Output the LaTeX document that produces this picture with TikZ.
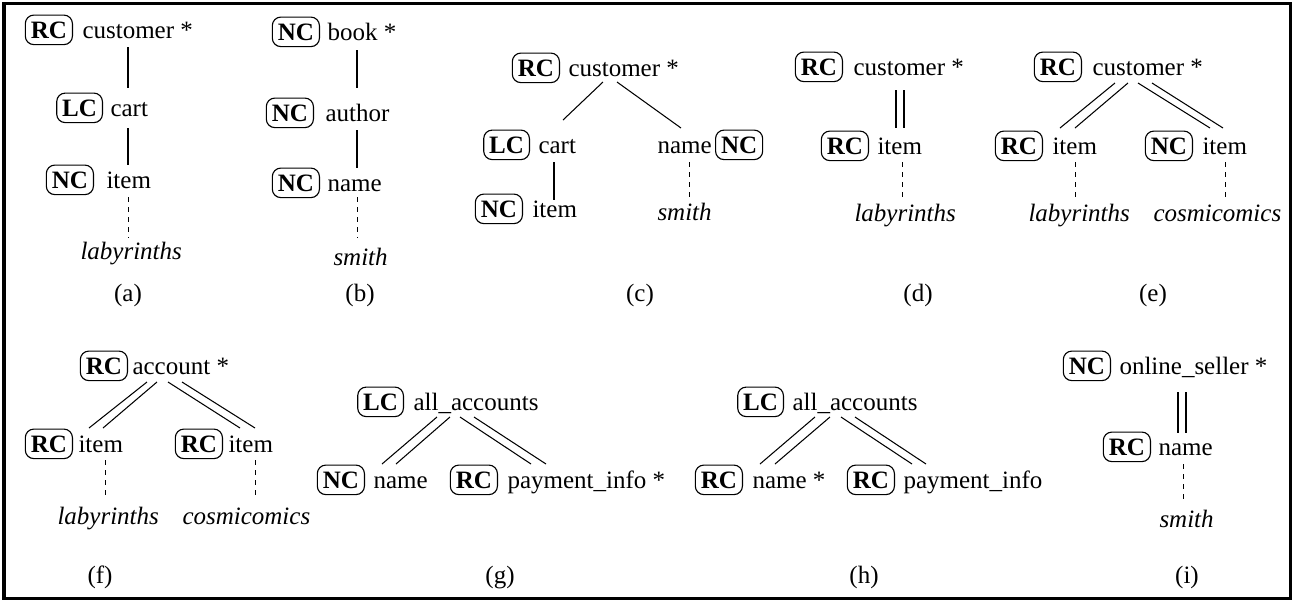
\documentclass[tikz,border=0pt]{standalone}
\usepackage{fontspec}
\setmainfont{Liberation Serif}
\usetikzlibrary{calc}
\newcommand\tagl[6]{%
  \node[lab,anchor=base west] (#1) at (#4,#5) {#6};
  \node[tagbox,anchor=base east] (#1t) at (#3,#5) {#2};}
\newcommand\tagr[6]{%
  \node[lab,anchor=base west] (#1) at (#4,#5) {#6};
  \node[tagbox,anchor=base west] (#1t) at (#3,#5) {#2};}
\newcommand\vnode[4]{\node[valtxt,anchor=base west] (#1) at (#2,#3) {#4};}
\newcommand\capt[4]{\node[captxt,anchor=base] (#1) at (#2,#3) {#4};}
\newcommand\edg[5][edge]{\draw[#1] ($(#2.base west)+(#3)$) -- ($(#4.base west)+(#5)$);}
\begin{document}
\begin{tikzpicture}[x=0.4pt,y=-0.4pt,
  tagbox/.style={draw, line width=0.45pt, rounded corners=3.4pt, inner xsep=2.2pt, inner ysep=0pt, minimum height=11.8pt, font=\bfseries},
  lab/.style={inner sep=0pt},
  valtxt/.style={inner sep=0pt, font=\itshape},
  captxt/.style={inner sep=0pt},
  edge/.style={line width=0.42pt},
  dedge/.style={line width=0.36pt, dash pattern=on 2pt off 2pt}]
\useasboundingbox (0,0) rectangle (1296,602);
\draw[line width=1.2pt] (4,3.5) rectangle (1290.5,598.5);

% (a)
\tagl{a1}{RC}{73}{82}{38}{customer *}
\tagl{a2}{LC}{103}{110}{116}{cart}
\tagl{a3}{NC}{94}{106}{188}{item}
\vnode{a4}{80}{259}{labyrinths}
\capt{ca}{128}{301}{(a)}
\edg{a1}{46,9}{a2}{18,-28}
\edg{a2}{18,12}{a3}{22,-23}
\edg[dedge]{a3}{22,9}{a4}{48,-21}

% (b)
\tagl{b1}{NC}{320}{327}{40}{book *}
\tagl{b2}{NC}{314}{325}{121}{author}
\tagl{b3}{NC}{320}{327}{191}{name}
\vnode{b4}{333}{265}{smith}
\capt{cb}{360}{301}{(b)}
\edg{b1}{30,10}{b2}{32,-33}
\edg{b2}{32,9}{b3}{30,-23}
\edg[dedge]{b3}{30,6}{b4}{24,-27}

% (c)
\tagl{c1}{RC}{560}{568}{76}{customer *}
\tagl{c2}{LC}{530}{538}{153}{cart}
\tagl{c3}{NC}{523}{532}{217}{item}
\tagr{c4}{NC}{715}{657}{153}{name}
\vnode{c5}{657}{220}{smith}
\capt{cc}{640}{301}{(c)}
\edg{c1}{35,6}{c2}{25,-33}
\edg{c1}{49,6}{c4}{24,-25}
\edg{c2}{16,9}{c3}{22,-17}
\edg[dedge]{c4}{32,9}{c5}{32,-20}

% (d)
\tagl{d1}{RC}{843}{853}{75}{customer *}
\tagl{d2}{RC}{869}{877}{154}{item}
\vnode{d3}{854}{221}{labyrinths}
\capt{cd}{918}{301}{(d)}
\edg{d1}{43,15}{d2}{19,-26}
\edg{d1}{51,15}{d2}{27,-26}
\edg[dedge]{d2}{25,8}{d3}{48,-21}

% (e)
\tagl{e1}{RC}{1082}{1092}{75}{customer *}
\tagl{e2}{RC}{1043}{1052}{154}{item}
\tagl{e3}{NC}{1193}{1202}{154}{item}
\vnode{e4}{1028}{221}{labyrinths}
\vnode{e5}{1153}{221}{cosmicomics}
\capt{ce}{1153}{301}{(e)}
\edg{e1}{23,8}{e2}{8,-26}
\edg{e1}{36,8}{e2}{23,-26}
\edg{e1}{46,8}{e3}{8,-26}
\edg{e1}{60,8}{e3}{21,-26}
\edg[dedge]{e2}{23,8}{e4}{47,-21}
\edg[dedge]{e3}{23,8}{e5}{72,-21}

% (f)
\tagl{f1}{RC}{128}{132}{374}{account *}
\tagl{f2}{RC}{73}{78}{452}{item}
\tagl{f3}{RC}{223}{228}{452}{item}
\vnode{f4}{57}{524}{labyrinths}
\vnode{f5}{182}{524}{cosmicomics}
\capt{cf}{100}{583}{(f)}
\edg{f1}{15,8}{f2}{11,-24}
\edg{f1}{25,8}{f2}{25,-24}
\edg{f1}{36,8}{f3}{12,-24}
\edg{f1}{50,8}{f3}{27,-24}
\edg[dedge]{f2}{27,8}{f4}{48,-24}
\edg[dedge]{f3}{27,8}{f5}{73,-24}

% (g)
\tagl{g1}{LC}{404}{413}{410}{all\_accounts}
\tagl{g2}{NC}{365}{373}{488}{name}
\tagl{g3}{RC}{498}{507}{488}{payment\_info *}
\capt{cg}{500}{583}{(g)}
\edg{g1}{24,7}{g2}{9,-24}
\edg{g1}{37,7}{g2}{23,-24}
\edg{g1}{47,7}{g3}{24,-24}
\edg{g1}{61,7}{g3}{39,-24}

% (h)
\tagl{h1}{LC}{784}{792}{410}{all\_accounts}
\tagl{h2}{RC}{743}{752}{488}{name *}
\tagl{h3}{RC}{895}{903}{488}{payment\_info}
\capt{ch}{864}{583}{(h)}
\edg{h1}{23,7}{h2}{8,-24}
\edg{h1}{38,7}{h2}{23,-24}
\edg{h1}{49,7}{h3}{9,-24}
\edg{h1}{63,7}{h3}{23,-24}

% (i)
\tagl{i1}{NC}{1111}{1119}{374}{online\_seller *}
\tagl{i2}{RC}{1151}{1158}{455}{name}
\vnode{i3}{1159}{527}{smith}
\capt{ci}{1187}{583}{(i)}
\edg{i1}{59,18}{i2}{20,-22}
\edg{i1}{67,18}{i2}{28,-22}
\edg[dedge]{i2}{25,9}{i3}{24,-24}
\end{tikzpicture}
\end{document}
